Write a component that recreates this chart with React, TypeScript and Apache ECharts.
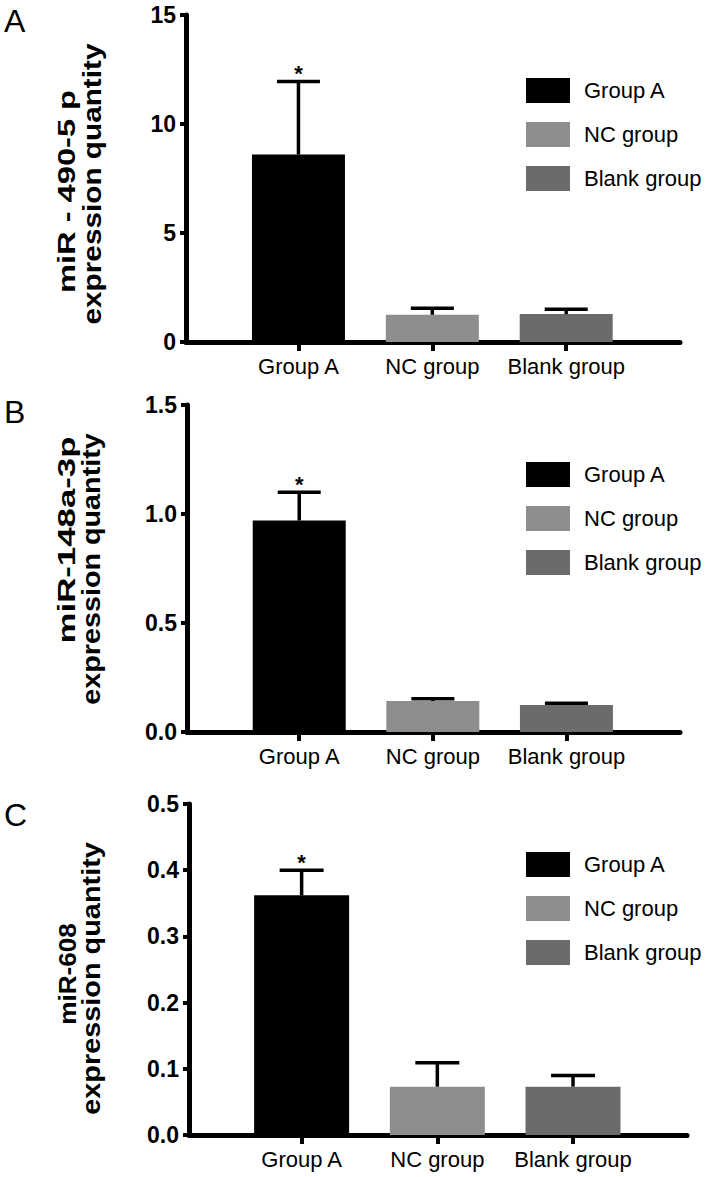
import React, { useEffect, useRef } from "react";
import * as echarts from "echarts";

const categories = ["Group A", "NC group", "Blank group"];
const panelLetters = ["A", "B", "C"];

const titleA = ["miR - 490-5 p", "expression quantity"];
const titleB = ["miR-148a-3p", "expression quantity"];
const titleC = ["miR-608", "expression quantity"];

const meansA = [8.6, 1.25, 1.28];
const upperA = [11.95, 1.55, 1.5];
const sigA = ["*", "", ""];
const yMaxA = 15;
const yStepA = 5;

const meansB = [0.97, 0.142, 0.124];
const upperB = [1.1, 0.152, 0.132];
const sigB = ["*", "", ""];
const yMaxB = 1.5;
const yStepB = 0.5;

const meansC = [0.362, 0.073, 0.073];
const upperC = [0.4, 0.109, 0.09];
const sigC = ["*", "", ""];
const yMaxC = 0.5;
const yStepC = 0.1;

const barColors = ["#000000", "#8e8e8e", "#6b6b6b"];
const FONT = "'Liberation Sans', Arial, Helvetica, sans-serif";

const panels = [
  { title: titleA, means: meansA, upper: upperA, sig: sigA, yMax: yMaxA, yStep: yStepA, decimals: 0 },
  { title: titleB, means: meansB, upper: upperB, sig: sigB, yMax: yMaxB, yStep: yStepB, decimals: 1 },
  { title: titleC, means: meansC, upper: upperC, sig: sigC, yMax: yMaxC, yStep: yStepC, decimals: 1 },
];

// title line layout: [centerX, centerY, fontSize, stretch along text]
const layouts = [
  { top: 15, height: 327, left: 186, width: 494, xMin: -0.84, xMax: 2.85, barWidth: 93, cap: 21.5, legendTop: 78, t: [[67, 191.5, 24, 1.36], [92, 184, 25, 1.19]], letter: [4, 21] },
  { top: 405, height: 327, left: 187, width: 493, xMin: -0.84, xMax: 2.85, barWidth: 93, cap: 21.5, legendTop: 462, t: [[67, 540, 24, 1.45], [92, 569, 25, 1.15]], letter: [4, 412] },
  { top: 804, height: 331, left: 189, width: 498, xMin: -0.83, xMax: 2.84, barWidth: 95, cap: 22, legendTop: 852, t: [[67, 974, 24, 1.09], [92, 978.5, 25, 1.155]], letter: [4, 815] },
];

export default function App() {
  const ref = useRef<HTMLDivElement>(null);

  useEffect(() => {
    document.body.style.margin = "0";
    if (!ref.current) return;
    const chart = echarts.init(ref.current, null, { renderer: "svg" });

    const grid: any[] = [];
    const xAxis: any[] = [];
    const yAxis: any[] = [];
    const series: any[] = [];
    const legend: any[] = [];
    const graphic: any[] = [];

    panels.forEach((p, i) => {
      const L = layouts[i];
      grid.push({ left: L.left, top: L.top, width: L.width, height: L.height });
      xAxis.push({
        type: "value",
        gridIndex: i,
        min: L.xMin,
        max: L.xMax,
        axisLine: { show: true, onZero: false, lineStyle: { color: "#000", width: 5 } },
        axisTick: { show: true, customValues: [0, 1, 2], length: 9, lineStyle: { color: "#000", width: 4 } },
        axisLabel: {
          customValues: [0, 1, 2],
          formatter: (v: number) => categories[Math.round(v)] ?? "",
          fontSize: 22,
          color: "#000",
          fontFamily: FONT,
          margin: 13,
        },
        splitLine: { show: false },
      });
      yAxis.push({
        type: "value",
        gridIndex: i,
        min: 0,
        max: p.yMax,
        interval: p.yStep,
        axisLine: { show: true, onZero: false, lineStyle: { color: "#000", width: 5 } },
        axisTick: { show: true, length: 6, lineStyle: { color: "#000", width: 4 } },
        axisLabel: {
          fontSize: 23,
          fontWeight: "bold",
          color: "#000",
          fontFamily: FONT,
          margin: 10,
          formatter: (v: number) => v.toFixed(p.decimals),
        },
        splitLine: { show: false },
      });
      categories.forEach((c, k) => {
        series.push({
          type: "bar",
          name: c,
          xAxisIndex: i,
          yAxisIndex: i,
          barWidth: L.barWidth,
          barGap: "-100%",
          itemStyle: { color: barColors[k] },
          data: [[k, p.means[k]]],
        });
      });
      series.push({
        type: "custom",
        xAxisIndex: i,
        yAxisIndex: i,
        z: 5,
        encode: { x: 0, y: [1, 2] },
        data: categories.map((_, k) => [k, p.means[k], p.upper[k]]),
        renderItem: (params: any, api: any) => {
          const x = api.value(0);
          const m = api.value(1);
          const u = api.value(2);
          const p0 = api.coord([x, m]);
          const p1 = api.coord([x, u]);
          const children: any[] = [
            { type: "line", shape: { x1: p0[0], y1: p0[1], x2: p1[0], y2: p1[1] }, style: { stroke: "#000", lineWidth: 3.5 } },
            { type: "line", shape: { x1: p1[0] - L.cap, y1: p1[1], x2: p1[0] + L.cap, y2: p1[1] }, style: { stroke: "#000", lineWidth: 3.5 } },
          ];
          const s = p.sig[params.dataIndex];
          if (s) {
            children.push({
              type: "text",
              x: p1[0],
              y: p1[1] - 8,
              style: { text: s, fontSize: 22, fontWeight: "bold", fill: "#000", align: "center", verticalAlign: "middle", fontFamily: FONT },
            });
          }
          return { type: "group", children };
        },
      });
      legend.push({
        orient: "vertical",
        left: 526,
        top: L.legendTop,
        padding: 0,
        itemWidth: 44,
        itemHeight: 25,
        itemGap: 19,
        icon: "rect",
        selectedMode: false,
        data: categories,
        textStyle: { fontSize: 22, color: "#000", fontFamily: FONT, padding: [0, 0, 0, 9] },
      });
      graphic.push({
        type: "text",
        x: L.letter[0],
        y: L.letter[1],
        style: { text: panelLetters[i], fontSize: 32, fill: "#000", fontFamily: FONT, align: "left", verticalAlign: "middle" },
      });
      L.t.forEach((t, j) => {
        graphic.push({
          type: "text",
          x: t[0],
          y: t[1],
          rotation: Math.PI / 2,
          scaleX: t[3],
          style: { text: p.title[j], fontSize: t[2], fontWeight: "bold", fill: "#000", fontFamily: FONT, align: "center", verticalAlign: "middle" },
        });
      });
    });

    chart.setOption({
      animation: false,
      backgroundColor: "#fff",
      grid,
      xAxis,
      yAxis,
      series,
      legend,
      graphic,
    });
    return () => chart.dispose();
  }, []);

  return <div ref={ref} style={{ width: 718, height: 1177 }} />;
}
